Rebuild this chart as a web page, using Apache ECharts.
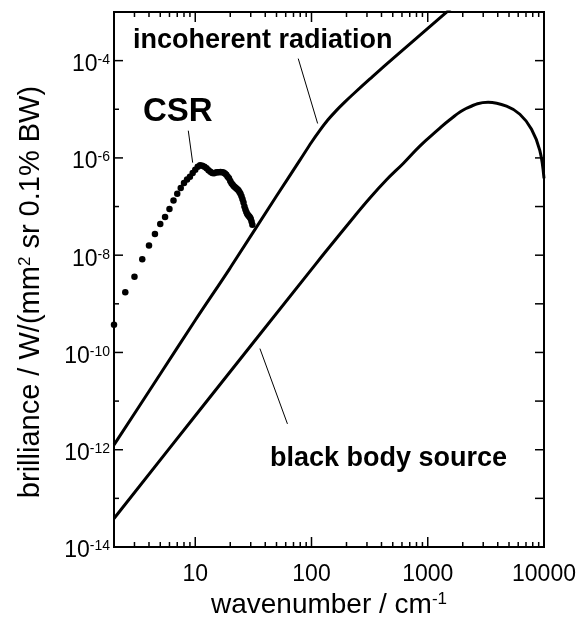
<!DOCTYPE html>
<html>
<head>
<meta charset="utf-8">
<script src="https://cdn.jsdelivr.net/npm/echarts@6/dist/echarts.min.js"></script>
<style>
  html, body { margin: 0; padding: 0; background: #fff; }
  #chart { width: 579px; height: 624px; }
</style>
</head>
<body>
<div id="chart"></div>
<script>
// 非相干辐射 incoherent radiation
const incoWn = [2, 5, 10, 20, 50, 80, 100, 118, 138, 164, 194, 229, 318, 442, 801, 1452, 2000];
const incoVal = [1.26e-12, 3.6e-11, 4.6e-10, 5.5e-9, 1.65e-7, 9.2e-7, 2.1e-6, 3.68e-6, 6.0e-6, 9.5e-6, 1.42e-5, 2.06e-5, 4.2e-5, 8.5e-5, 2.9e-4, 9.9e-4, 1.9e-3];

// black body source
const bbWn = [2, 10, 100, 130, 229, 318, 442, 615, 855, 1228, 1548, 2156, 3306, 4760, 6200, 7810, 9200, 10000];
const bbVal = [3.86e-14, 5.0e-12, 5.1e-9, 1.12e-8, 5.9e-8, 1.5e-7, 3.55e-7, 7.7e-7, 1.75e-6, 3.8e-6, 6.1e-6, 1.05e-5, 1.40e-5, 1.16e-5, 7.9e-6, 3.9e-6, 1.43e-6, 3.8e-7];

// CSR measured points
const csrWn = [2, 2.5, 3, 3.5, 4, 4.5, 5, 5.5, 6, 6.5, 7, 7.5, 8, 8.5, 9, 9.5, 10, 10.5, 11, 11.5,
    12, 12.5, 13, 13.5, 14, 14.5, 15, 15.5, 16, 16.5, 17, 17.5, 18, 18.5, 19, 19.5, 20, 20.5, 21, 21.5,
    22, 22.5, 23, 23.5, 24, 24.5, 25, 25.5, 26, 26.5, 27, 27.5, 28, 28.5, 29, 29.5, 30, 30.5, 31];
const csrVal = [3.7e-10, 1.73e-9, 3.6e-9, 8.2e-9, 1.59e-8, 2.74e-8, 4.4e-8, 6.1e-8, 8.9e-8, 1.33e-7,
    1.83e-7, 2.42e-7, 3.05e-7, 3.6e-7, 4.1e-7, 4.9e-7, 5.7e-7, 6.6e-7, 7.1e-7, 6.9e-7,
    6.6e-7, 6.1e-7, 5.6e-7, 5.2e-7, 4.9e-7, 4.85e-7, 5.0e-7, 5.05e-7, 5.1e-7, 5.15e-7,
    5.1e-7, 5.0e-7, 4.8e-7, 4.5e-7, 4.1e-7, 3.8e-7, 3.35e-7, 3.0e-7, 2.8e-7, 2.6e-7,
    2.5e-7, 2.37e-7, 2.26e-7, 2.16e-7, 2.0e-7, 1.83e-7, 1.63e-7, 1.42e-7, 1.21e-7, 1.0e-7,
    8.7e-8, 7.7e-8, 7.0e-8, 6.6e-8, 6.3e-8, 6.0e-8, 5.6e-8, 4.9e-8, 4.2e-8];

// leader lines of the labels
const incoLeadWn = [76.9, 112.9];
const incoLeadVal = [1.1e-4, 5.1e-6];
const csrLeadWn = [8.71, 9.5];
const csrLeadVal = [3.63e-6, 8.0e-7];
const bbLeadWn = [36.0, 62.1];
const bbLeadVal = [1.2e-10, 3.4e-12];

// axis ticks
const X_MIN = 2, X_MAX = 10000, Y_MIN = 1e-14, Y_MAX = 1e-3;
const xMajorTicks = [10, 100, 1000, 10000];
const xMinorTicks = [3, 4, 5, 6, 7, 8, 9, 20, 30, 40, 50, 60, 70, 80, 90,
    200, 300, 400, 500, 600, 700, 800, 900, 2000, 3000, 4000, 5000, 6000, 7000, 8000, 9000];
const yMajorTicks = [1e-14, 1e-12, 1e-10, 1e-8, 1e-6, 1e-4];
const yMinorTicks = [1e-13, 1e-11, 1e-9, 1e-7, 1e-5];
const yTickExp = ['-14', '-12', '-10', '-8', '-6', '-4'];

const FONT = '"Liberation Sans", Arial, Helvetica, sans-serif';
const tickStyle = { stroke: '#000', lineWidth: 1.5 };

const zip = (xs, ys) => xs.map((x, i) => [x, ys[i]]);

const xTickData = xMajorTicks.map((v) => [v, Y_MIN, 1]).concat(xMinorTicks.map((v) => [v, Y_MIN, 0]));
const yTickData = yMajorTicks.map((v) => [X_MIN, v, 1]).concat(yMinorTicks.map((v) => [X_MIN, v, 0]));

const renderXTick = (params, api) => {
    const len = api.value(2) ? 10 : 5;
    const b = api.coord([api.value(0), Y_MIN]);
    const t = api.coord([api.value(0), Y_MAX]);
    return {
        type: 'group',
        children: [
            { type: 'line', shape: { x1: b[0], y1: b[1], x2: b[0], y2: b[1] - len }, style: tickStyle },
            { type: 'line', shape: { x1: t[0], y1: t[1], x2: t[0], y2: t[1] + len }, style: tickStyle },
        ],
    };
};

// y 轴刻度和标签 (10 的幂)
const renderYTick = (params, api) => {
    const major = api.value(2);
    const len = major ? 9 : 5;
    const l = api.coord([X_MIN, api.value(1)]);
    const r = api.coord([X_MAX, api.value(1)]);
    const children = [
        { type: 'line', shape: { x1: l[0], y1: l[1], x2: l[0] + len, y2: l[1] }, style: tickStyle },
        { type: 'line', shape: { x1: r[0], y1: r[1], x2: r[0] - 9, y2: r[1] }, style: tickStyle },
    ];
    if (major) {
        children.push({
            type: 'text',
            x: l[0] - 4,
            y: l[1] + 4,
            style: {
                text: '{b|10}{s|' + yTickExp[params.dataIndex] + '}',
                align: 'right',
                verticalAlign: 'middle',
                rich: {
                    b: { fontSize: 23, fontFamily: FONT, fill: '#000' },
                    s: { fontSize: 14, fontFamily: FONT, fill: '#000', verticalAlign: 'top' },
                },
            },
        });
    }
    return { type: 'group', children };
};

const leader = (xs, ys) => ({
    type: 'line',
    data: zip(xs, ys),
    showSymbol: false,
    silent: true,
    lineStyle: { color: '#000', width: 1 },
});

const chart = echarts.init(document.getElementById('chart'));
chart.setOption({
    animation: false,
    backgroundColor: '#fff',
    textStyle: { fontFamily: FONT },
    grid: {
        left: 114,
        right: 35,
        top: 12,
        bottom: 67,
        show: true,
        borderColor: '#000',
        borderWidth: 2,
    },
    xAxis: {
        type: 'log',
        logBase: 10,
        min: X_MIN,
        max: X_MAX,
        axisLine: { show: false },
        axisTick: { show: false },
        splitLine: { show: false },
        axisLabel: {
            margin: 16,
            color: '#000',
            fontSize: 23,
            fontFamily: FONT,
            showMinLabel: true,
            showMaxLabel: true,
            formatter: (v) => {
                const e = Math.log10(v);
                return Math.abs(e - Math.round(e)) < 1e-6 && Math.round(e) >= 1 ? String(Math.round(Math.pow(10, Math.round(e)))) : '';
            },
        },
        name: 'wavenumber / cm{s|-1}',
        nameLocation: 'middle',
        nameGap: 44,
        nameTextStyle: {
            color: '#000',
            fontSize: 28,
            fontFamily: FONT,
            rich: {
                s: { fontSize: 17, fontFamily: FONT, color: '#000', verticalAlign: 'top' },
            },
        },
    },
    yAxis: {
        type: 'log',
        logBase: 10,
        min: Y_MIN,
        max: Y_MAX,
        axisLine: { show: false },
        axisTick: { show: false },
        splitLine: { show: false },
        axisLabel: { show: false },
    },
    graphic: [
        {
            type: 'text',
            x: 31,
            y: 292,
            rotation: Math.PI / 2,
            silent: true,
            style: {
                text: 'brilliance / W/(mm{s|2} sr 0.1% BW)',
                fontSize: 29,
                fontFamily: FONT,
                fill: '#000',
                align: 'center',
                verticalAlign: 'middle',
                rich: { s: { fontSize: 17, fontFamily: FONT, fill: '#000', verticalAlign: 'top' } },
            },
        },
        {
            type: 'text',
            x: 133,
            y: 41,
            silent: true,
            style: { text: 'incoherent radiation', fontSize: 27, fontWeight: 'bold', fontFamily: FONT, fill: '#000', align: 'left', verticalAlign: 'middle' },
        },
        {
            type: 'text',
            x: 143,
            y: 112,
            silent: true,
            style: { text: 'CSR', fontSize: 33, fontWeight: 'bold', fontFamily: FONT, fill: '#000', align: 'left', verticalAlign: 'middle' },
        },
        {
            type: 'text',
            x: 270,
            y: 459,
            silent: true,
            style: { text: 'black body source', fontSize: 27, fontWeight: 'bold', fontFamily: FONT, fill: '#000', align: 'left', verticalAlign: 'middle' },
        },
    ],
    series: [
        {
            type: 'line',
            data: zip(incoWn, incoVal),
            showSymbol: false,
            smooth: 0.3,
            lineStyle: { color: '#000', width: 3 },
        },
        {
            type: 'line',
            data: zip(bbWn, bbVal),
            showSymbol: false,
            smooth: 0.4,
            lineStyle: { color: '#000', width: 3 },
        },
        {
            type: 'scatter',
            data: zip(csrWn, csrVal),
            symbol: 'circle',
            symbolSize: 6.5,
            itemStyle: { color: '#000', opacity: 1 },
        },
        leader(incoLeadWn, incoLeadVal),
        leader(csrLeadWn, csrLeadVal),
        leader(bbLeadWn, bbLeadVal),
        { type: 'custom', data: xTickData, renderItem: renderXTick, silent: true },
        { type: 'custom', data: yTickData, renderItem: renderYTick, silent: true },
    ],
});
</script>
</body>
</html>
